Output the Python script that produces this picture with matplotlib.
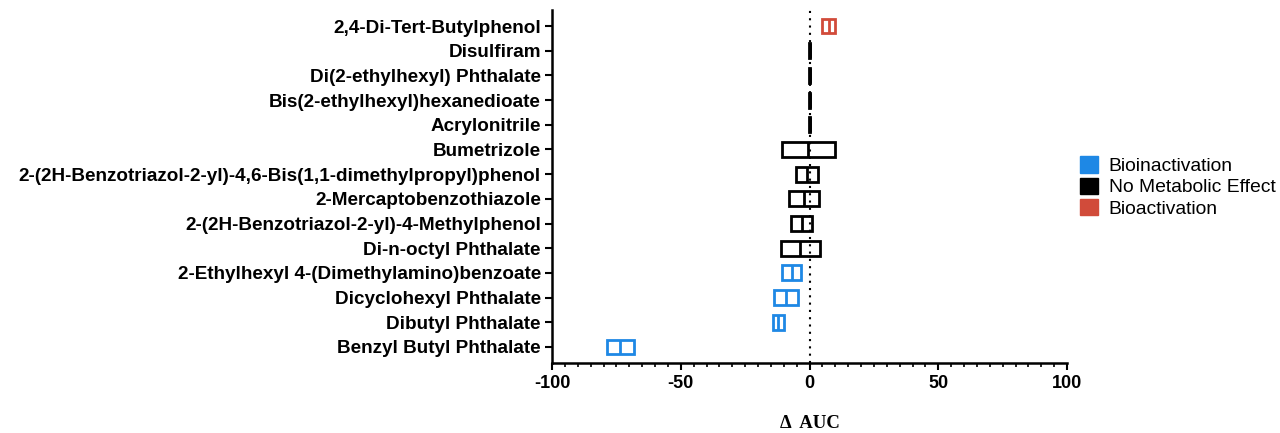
import matplotlib.pyplot as plt
import numpy as np

# compounds listed bottom -> top
compounds = [
    "Benzyl Butyl Phthalate",
    "Dibutyl Phthalate",
    "Dicyclohexyl Phthalate",
    "2-Ethylhexyl 4-(Dimethylamino)benzoate",
    "Di-n-octyl Phthalate",
    "2-(2H-Benzotriazol-2-yl)-4-Methylphenol",
    "2-Mercaptobenzothiazole",
    "2-(2H-Benzotriazol-2-yl)-4,6-Bis(1,1-dimethylpropyl)phenol",
    "Bumetrizole",
    "Acrylonitrile",
    "Bis(2-ethylhexyl)hexanedioate",
    "Di(2-ethylhexyl) Phthalate",
    "Disulfiram",
    "2,4-Di-Tert-Butylphenol",
]
auc_min = [-78.8, -14.2, -13.9, -10.8, -11.1, -7.1, -8.1, -5.4, -10.8, -0.3, -0.3, -0.3, -0.3, 4.7]
auc_mid = [-73.5, -12.1, -9.1, -6.9, -3.6, -2.9, -2.0, -1.1, -0.5, 0.0, 0.0, 0.0, 0.0, 7.5]
auc_max = [-68.2, -10.0, -4.3, -3.2, 4.2, 1.1, 3.8, 3.2, 10.0, 0.3, 0.3, 0.3, 0.3, 10.0]
effect = ["inact", "inact", "inact", "inact",
          "none", "none", "none", "none", "none", "none", "none", "none", "none",
          "act"]

colors = {"inact": "#1E88E5", "none": "#000000", "act": "#D14B3A"}
legend_labels = [("inact", "Bioinactivation"), ("none", "No Metabolic Effect"),
                 ("act", "Bioactivation")]

plt.rcParams["font.family"] = ["Liberation Sans", "DejaVu Sans"]
plt.rcParams["axes.unicode_minus"] = False

fig = plt.figure(figsize=(12.8, 4.33), dpi=100)
ax = fig.add_axes([552 / 1280, 1 - 363 / 433, (1067 - 552) / 1280, (363 - 10) / 433])

y = np.arange(len(compounds))
lo = np.array(auc_min)
hi = np.array(auc_max)
cols = [colors[e] for e in effect]

ax.axvline(0, color="black", ls=(0, (1, 2.5)), lw=1.5, zorder=1)
ax.barh(y, hi - lo, left=lo, height=0.6, fill=False, edgecolor=cols,
        linewidth=2.0, zorder=3)
ax.vlines(auc_mid, y - 0.3, y + 0.3, colors=cols, linewidth=2.0, zorder=3)

ax.set_xlim(-100, 100)
ax.set_ylim(-0.65, len(compounds) - 0.35)
ax.set_xticks([-100, -50, 0, 50, 100])
ax.set_xticks(np.arange(-100, 101, 5), minor=True)
ax.set_yticks(y)
ax.set_yticklabels(compounds, fontweight="bold", fontsize=13.6)
for lab in ax.get_xticklabels():
    lab.set_fontweight("bold")
    lab.set_fontsize(13)

ax.tick_params(axis="both", which="major", length=5, width=1.5)
ax.tick_params(axis="x", which="minor", length=3, width=1.2)
ax.tick_params(axis="x", pad=4)
ax.tick_params(axis="y", pad=3)
for s in ("top", "right"):
    ax.spines[s].set_visible(False)
for s in ("left", "bottom"):
    ax.spines[s].set_linewidth(1.8)

ax.set_xlabel("Δ  AUC", family=["Liberation Serif", "DejaVu Serif"],
              fontweight="bold", fontsize=13.5, labelpad=16)

handles = [plt.Rectangle((0, 0), 1, 1, color=colors[k]) for k, _ in legend_labels]
fig.legend(handles, [t for _, t in legend_labels], loc="center left",
           bbox_to_anchor=(1070 / 1280, 1 - 187 / 433), frameon=False,
           fontsize=13.9, handlelength=0.95, handleheight=0.95, handletextpad=0.55,
           labelspacing=0.12, borderpad=0)

fig.savefig("out.png", dpi=100)
